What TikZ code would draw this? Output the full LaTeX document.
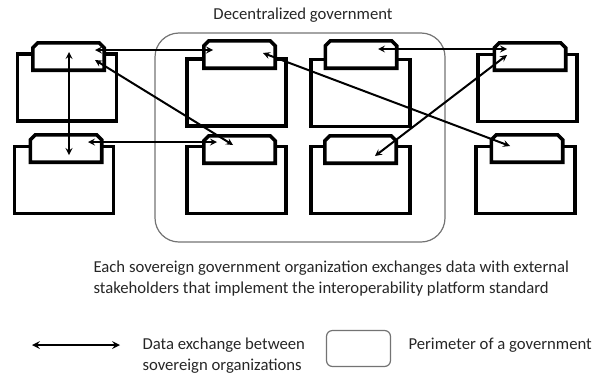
\documentclass[tikz,border=0pt]{standalone}
\usepackage{fontspec}
\setmainfont{Carlito}
\usepackage{xcolor}
\usepackage{tikz}
\usetikzlibrary{arrows}
\tikzstyle{orgbody} = [rectangle, 
minimum width=99pt, 
minimum height=67pt, 
line width=3.6pt, 
draw=black, 
fill=white]
\tikzstyle{orgtab} = [rectangle, 
minimum width=71pt, 
minimum height=27pt, 
inner sep=0pt, 
fill=white]
\tikzstyle{tabline} = [line width=3.6pt, draw=black]
\tikzstyle{perimeter} = [rectangle, rounded corners=24pt, 
minimum width=290pt, 
minimum height=209pt, 
line width=1.2pt, 
draw=black!55]
\tikzstyle{arrow} = [line width=2pt,<->,>=stealth]
\tikzstyle{comment} = [align=left, 
text=black!85, 
font=\fontsize{16.7}{21.5}\selectfont]

\begin{document}
\begin{tikzpicture}[x=1pt,y=-1pt]
\useasboundingbox (0,0) rectangle (593,375);

% perimeter of the government
\node (perim) [perimeter] at (300,137.5) {};
\node (title) [comment] at (303,15) {Decentralized government};

% organizations
\node (a1) [orgbody] at (67,87.5) {};
\node (a2) [orgbody] at (64,180) {};
\node (b1) [orgbody] at (236.5,92.5) {};
\node (b2) [orgbody] at (236.5,180) {};
\node (c1) [orgbody] at (360.5,93) {};
\node (c2) [orgbody] at (360.5,180) {};
\node (d1) [orgbody] at (527.5,88) {};
\node (d2) [orgbody] at (525.5,180) {};

\node (a1tab) [orgtab] at (68.5,56.5) {};
\node (a2tab) [orgtab] at (66,148.5) {};
\node (b1tab) [orgtab] at (239.5,54.5) {};
\node (b2tab) [orgtab] at (239.5,149.5) {};
\node (c1tab) [orgtab] at (361,54.5) {};
\node (c2tab) [orgtab] at (360.5,149.5) {};
\node (d1tab) [orgtab] at (530,56.5) {};
\node (d2tab) [orgtab] at (527,148.5) {};

% tab outlines with cut corners
\foreach \t in {a1tab,a2tab,b1tab,b2tab,c1tab,c2tab,d1tab,d2tab}
  \draw [tabline] (\t.south west) -- ([yshift=-5pt]\t.north west) -- ([xshift=5pt]\t.north west)
    -- ([xshift=-5pt]\t.north east) -- ([yshift=-5pt]\t.north east) -- (\t.south east) -- cycle;

% data exchanges
\draw [arrow] ([shift={(0.5,-4.5)}]a1tab.center) -- ([shift={(3,6.5)}]a2tab.center);
\draw [arrow] ([shift={(26.5,-6.5)}]a1tab.center) -- ([shift={(-26.5,-4.5)}]b1tab.center);
\draw [arrow] ([shift={(22,-6.5)}]a2tab.center) -- ([shift={(-22.5,-7.5)}]b2tab.center);
\draw [arrow] ([shift={(26.5,3.5)}]a1tab.center) -- ([shift={(-6.5,-4.5)}]b2tab.center);
\draw [arrow] ([shift={(23.5,-1.5)}]b1tab.center) -- ([shift={(-17,-2.5)}]d2tab.center);
\draw [arrow] ([shift={(17,-5.5)}]c1tab.center) -- ([shift={(-23,-7.5)}]d1tab.center);
\draw [arrow] ([shift={(14.5,6.5)}]c2tab.center) -- ([shift={(-23,-1.5)}]d1tab.center);

% caption
\node (caption) [comment, anchor=west] at (90,278.5) {Each sovereign government organization exchanges data with external\\
stakeholders that implement the interoperability platform standard};

% legend
\coordinate (legl) at (32,345);
\coordinate (legr) at (120,345);
\draw [arrow, line width=2.4pt] (legl) -- (legr);
\node (legarrow) [comment, anchor=west] at (139,355.5) {Data exchange between\\
sovereign organizations};
\node (legbox) [rectangle, rounded corners=6pt, minimum width=64pt, minimum height=36pt, 
line width=1.2pt, draw=black!55] at (358.5,348.5) {};
\node (legperim) [comment, anchor=west] at (405,345) {Perimeter of a government};

\end{tikzpicture}
\end{document}
